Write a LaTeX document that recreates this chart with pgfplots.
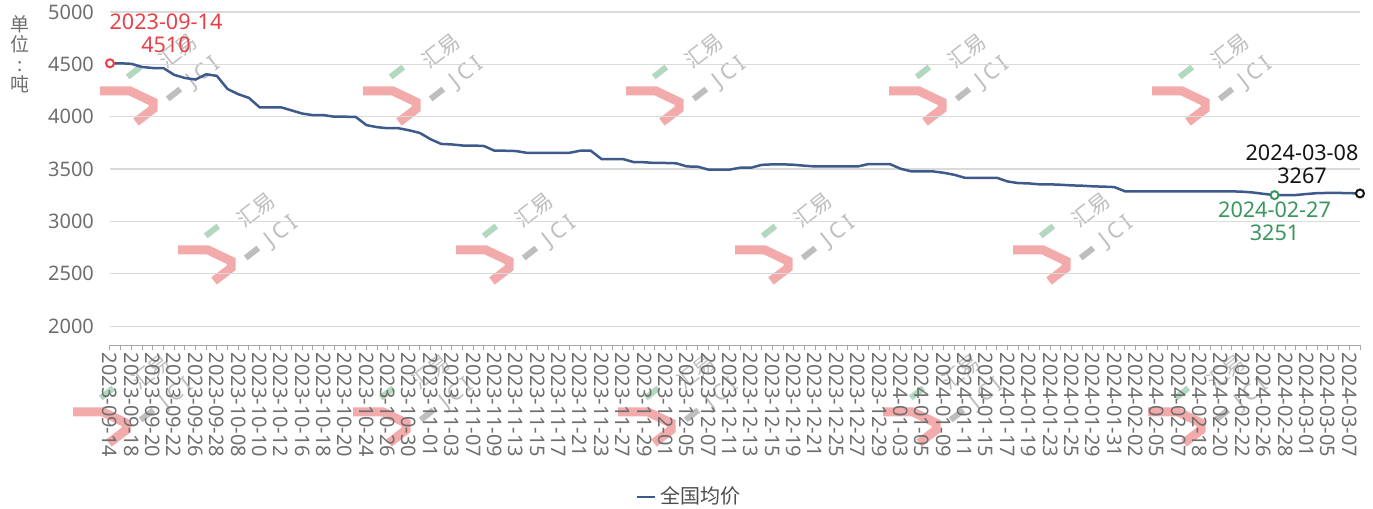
\documentclass[border=0pt]{standalone}
\usepackage{fontspec}
\setmainfont{Noto Sans}
\newfontfamily\cjk{Noto Sans CJK SC}
\usepackage{pgfplots}
\usepackage{pgfplotstable}
\pgfplotsset{compat=1.18}

\definecolor{lineblue}{RGB}{62,90,140}
\definecolor{tickgray}{RGB}{110,110,110}
\definecolor{gridgray}{RGB}{218,218,218}
\definecolor{markred}{RGB}{232,64,70}
\definecolor{markgreen}{RGB}{58,150,92}
\definecolor{markblack}{RGB}{20,20,20}
\definecolor{wmpink}{RGB}{243,170,170}
\definecolor{wmgreen}{RGB}{178,216,192}
\definecolor{wmgray}{RGB}{190,190,190}

% background logo: hook, two small bars and the rotated brand text
\newcommand{\wmlogo}[2]{%
  \begin{scope}[shift={(#1,#2)}]
    \draw[wmpink, line width=4.5pt, line join=miter]
      (-1pt,0) -- (14pt,0) -- (25.5pt,-5.5pt) -- (25.5pt,-9pt) -- (17pt,-15.5pt);
    \node[fill=wmgreen, minimum width=8pt, minimum height=3pt, inner sep=0pt,
      rotate=38] at (16pt,9.5pt) {};
    \node[fill=wmgray, minimum width=8pt, minimum height=3pt, inner sep=0pt,
      rotate=38] at (36pt,-1.5pt) {};
    \node[rotate=38, text=wmgray, inner sep=0pt,
      font=\cjk\fontsize{10.5}{10.5}\selectfont] at (38pt,20pt) {汇易};
    \node[rotate=38, text=wmgray, inner sep=0pt,
      font=\bfseries\fontsize{11}{11}\selectfont] at (51pt,9pt) {J\,C\,I};
  \end{scope}}

% national average price, one row per trading day (idx = position on the category axis)
\pgfplotstableread{
idx price
0 4510
1 4510
2 4505
3 4475
4 4465
5 4465
6 4400
7 4370
8 4355
9 4405
10 4390
11 4265
12 4215
13 4180
14 4090
15 4090
16 4090
17 4060
18 4030
19 4015
20 4015
21 4000
22 4000
23 3998
24 3920
25 3900
26 3890
27 3890
28 3870
29 3845
30 3785
31 3740
32 3735
33 3725
34 3725
35 3720
36 3675
37 3675
38 3672
39 3655
40 3655
41 3655
42 3655
43 3655
44 3675
45 3675
46 3596
47 3596
48 3596
49 3567
50 3565
51 3558
52 3558
53 3555
54 3525
55 3523
56 3495
57 3495
58 3495
59 3513
60 3513
61 3540
62 3545
63 3545
64 3541
65 3532
66 3525
67 3525
68 3525
69 3525
70 3525
71 3548
72 3548
73 3548
74 3503
75 3478
76 3478
77 3478
78 3465
79 3446
80 3417
81 3417
82 3417
83 3417
84 3382
85 3366
86 3363
87 3354
88 3354
89 3350
90 3344
91 3341
92 3335
93 3332
94 3328
95 3288
96 3288
97 3288
98 3288
99 3288
100 3288
101 3288
102 3288
103 3288
104 3288
105 3287
106 3284
107 3276
108 3263
109 3251
110 3250
111 3252
112 3262
113 3270
114 3272
115 3272
116 3270
117 3267
}\pricetable

\begin{document}
\begin{tikzpicture}
\useasboundingbox (0,0) rectangle (686.5pt,254.5pt);

% background logos
\foreach \lx in {51pt,182.5pt,314pt,445.5pt,577pt} {\wmlogo{\lx}{209pt}}
\foreach \lx in {90pt,229pt,368.5pt,507.5pt} {\wmlogo{\lx}{129.5pt}}
\foreach \lx in {37.5pt,177.5pt,310pt,442.5pt,575pt} {\wmlogo{\lx}{48.5pt}}

% unit label, one character per line
\node[font=\cjk\fontsize{9.5}{10}\selectfont, text=tickgray, align=center]
  at (10pt,227.5pt) {单\\位\\:\\吨};

\begin{axis}[
  at={(55pt,81.75pt)}, anchor=south west,
  scale only axis, width=625pt, height=166.75pt,
  xmin=0, xmax=117, ymin=1815, ymax=5000,
  clip=false,
  axis x line*=bottom, axis y line*=left,
  y axis line style={draw=none},
  x axis line style={draw=tickgray!60, line width=0.6pt},
  ytick={2000,2500,...,5000},
  ytick style={draw=none},
  ymajorgrids,
  grid style={gridgray, line width=0.6pt},
  xtick={0,2,...,116},
  minor xtick={1,3,...,117},
  xtick style={draw=tickgray!60, line width=0.5pt},
  tick align=outside,
  major tick length=2.5pt, minor tick length=2.5pt,
  xticklabels={2023-09-14,2023-09-18,2023-09-20,2023-09-22,2023-09-26,2023-09-28,
    2023-10-08,2023-10-10,2023-10-12,2023-10-16,2023-10-18,2023-10-20,2023-10-24,
    2023-10-26,2023-10-30,2023-11-01,2023-11-03,2023-11-07,2023-11-09,2023-11-13,
    2023-11-15,2023-11-17,2023-11-21,2023-11-23,2023-11-27,2023-11-29,2023-12-01,
    2023-12-05,2023-12-07,2023-12-11,2023-12-13,2023-12-15,2023-12-19,2023-12-21,
    2023-12-25,2023-12-27,2023-12-29,2024-01-03,2024-01-05,2024-01-09,2024-01-11,
    2024-01-15,2024-01-17,2024-01-19,2024-01-23,2024-01-25,2024-01-29,2024-01-31,
    2024-02-02,2024-02-05,2024-02-07,2024-02-18,2024-02-20,2024-02-22,2024-02-26,
    2024-02-28,2024-03-01,2024-03-05,2024-03-07},
  xticklabel style={rotate=-90, anchor=west, inner sep=1pt,
    font=\fontsize{10}{12}\selectfont, text=tickgray},
  yticklabel style={font=\fontsize{10}{12}\selectfont, text=tickgray, xshift=-2pt},
  /pgf/number format/assume math mode=true,
  /pgf/number format/1000 sep={},
  legend style={at={(0.464,-0.454)}, anchor=center, draw=none, fill=none,
    font=\cjk\fontsize{10}{12}\selectfont, text=tickgray!70!black,
    inner sep=0pt},
  legend image code/.code={\draw[#1] (0pt,0pt) -- (9pt,0pt);},
]
\addplot[lineblue, line width=1.25pt, no markers] table[x=idx, y=price] {\pricetable};
\addlegendentry{全国均价}

\addplot[only marks, mark=*, mark size=2pt, forget plot,
  mark options={fill=white, draw=markred, line width=1pt}] coordinates {(0,4510)};
\addplot[only marks, mark=*, mark size=2pt, forget plot,
  mark options={fill=white, draw=markgreen, line width=1pt}] coordinates {(109,3251)};
\addplot[only marks, mark=*, mark size=2pt, forget plot,
  mark options={fill=white, draw=markblack, line width=1pt}] coordinates {(117,3267)};

\node[text=markred, align=center, font=\fontsize{10.8}{11.5}\selectfont,
  xshift=28pt, yshift=15pt] at (axis cs:0,4510) {2023-09-14\\4510};
\node[text=markgreen, align=center, font=\fontsize{10.8}{11.5}\selectfont,
  yshift=-13pt] at (axis cs:109,3251) {2024-02-27\\3251};
\node[text=markblack, align=center, font=\fontsize{10.8}{11.5}\selectfont,
  xshift=-29pt, yshift=14.5pt] at (axis cs:117,3267) {2024-03-08\\3267};
\end{axis}
\end{tikzpicture}
\end{document}
